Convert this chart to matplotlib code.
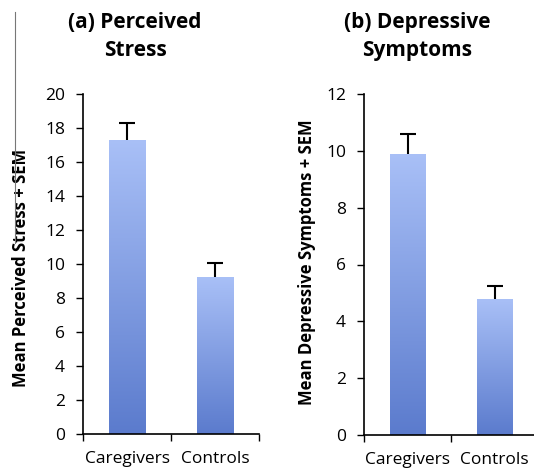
import numpy as np
import matplotlib
matplotlib.use("Agg")
import matplotlib.pyplot as plt
from matplotlib.colors import LinearSegmentedColormap
from matplotlib.lines import Line2D

# Data
groups = ["Caregivers", "Controls"]
stress_mean = [17.3, 9.25]
stress_sem = [1.0, 0.8]
dep_mean = [9.9, 4.8]
dep_sem = [0.7, 0.45]

plt.rcParams["font.family"] = ["Open Sans", "DejaVu Sans"]

W, H = 534, 470
fig = plt.figure(figsize=(W / 100, H / 100), dpi=100)

grad = LinearSegmentedColormap.from_list("bar", ["#5b7bcd", "#a9c0f7"])


def px_axes(x0, x1, y0, y1):
    return fig.add_axes([x0 / W, 1 - y1 / H, (x1 - x0) / W, (y1 - y0) / H])


def draw_panel(ax, means, sems, ymax, ystep, ylabel):
    x = np.arange(len(groups))
    bars = ax.bar(x, means, width=0.41, color="none", edgecolor="none", zorder=2)
    g = np.linspace(0, 1, 256).reshape(-1, 1)
    for b in bars:
        bx, by = b.get_x(), b.get_y()
        bw, bh = b.get_width(), b.get_height()
        im = ax.imshow(g, cmap=grad, origin="lower", aspect="auto",
                       extent=[bx, bx + bw, by, by + bh], zorder=2)
        im.set_clip_path(b)
    eb = ax.errorbar(x, means, yerr=[np.zeros(len(sems)), sems], fmt="none",
                     ecolor="black", elinewidth=1.5, capsize=6, capthick=1.5, zorder=3)
    # only the upper cap (+SEM)
    for cap in eb[1]:
        if np.allclose(cap.get_ydata(), means):
            cap.set_visible(False)
    ax.set_xlim(-0.5, 1.5)
    ax.set_ylim(0, ymax)
    ax.set_yticks(np.arange(0, ymax + 0.1, ystep))
    ax.set_xticks([-0.5, 0.5, 1.5])
    ax.set_xticklabels([])
    ax.set_xticks(x, minor=True)
    ax.set_xticklabels(groups, minor=True, fontsize=12.5)
    ax.tick_params(axis="x", which="minor", length=0, pad=12)
    ax.tick_params(axis="x", which="major", length=5, direction="out", width=1)
    ax.tick_params(axis="y", length=5, direction="out", width=1, labelsize=12.5, pad=8)
    for s in ["top", "right"]:
        ax.spines[s].set_visible(False)
    for s in ["left", "bottom"]:
        ax.spines[s].set_linewidth(1.2)
    ax.set_ylabel(ylabel, fontsize=12, fontweight="bold")


ax1 = px_axes(83, 259, 94, 434)
draw_panel(ax1, stress_mean, stress_sem, 20, 2, "Mean Perceived Stress + SEM")
ax2 = px_axes(364, 538, 94, 435)
draw_panel(ax2, dep_mean, dep_sem, 12, 2, "Mean Depressive Symptoms + SEM")
ax1.yaxis.set_label_coords(-(83 - 30) / 176, 0.488)
ax2.yaxis.set_label_coords(-(364 - 316) / 174, 0.507)

fig.text(135 / W, 1 - 12 / H, "(a) Perceived\nStress", ha="center", va="top",
         fontsize=15, fontweight="bold", linespacing=1.45)
fig.text(417 / W, 1 - 12 / H, "(b) Depressive\nSymptoms", ha="center", va="top",
         fontsize=15, fontweight="bold", linespacing=1.45)

# thin grey line at the left edge of the original figure
fig.add_artist(Line2D([15 / W, 15 / W], [1 - 12 / H, 1 - 243 / H],
                      color="#777777", linewidth=0.8))

fig.savefig("out.png", dpi=100)
